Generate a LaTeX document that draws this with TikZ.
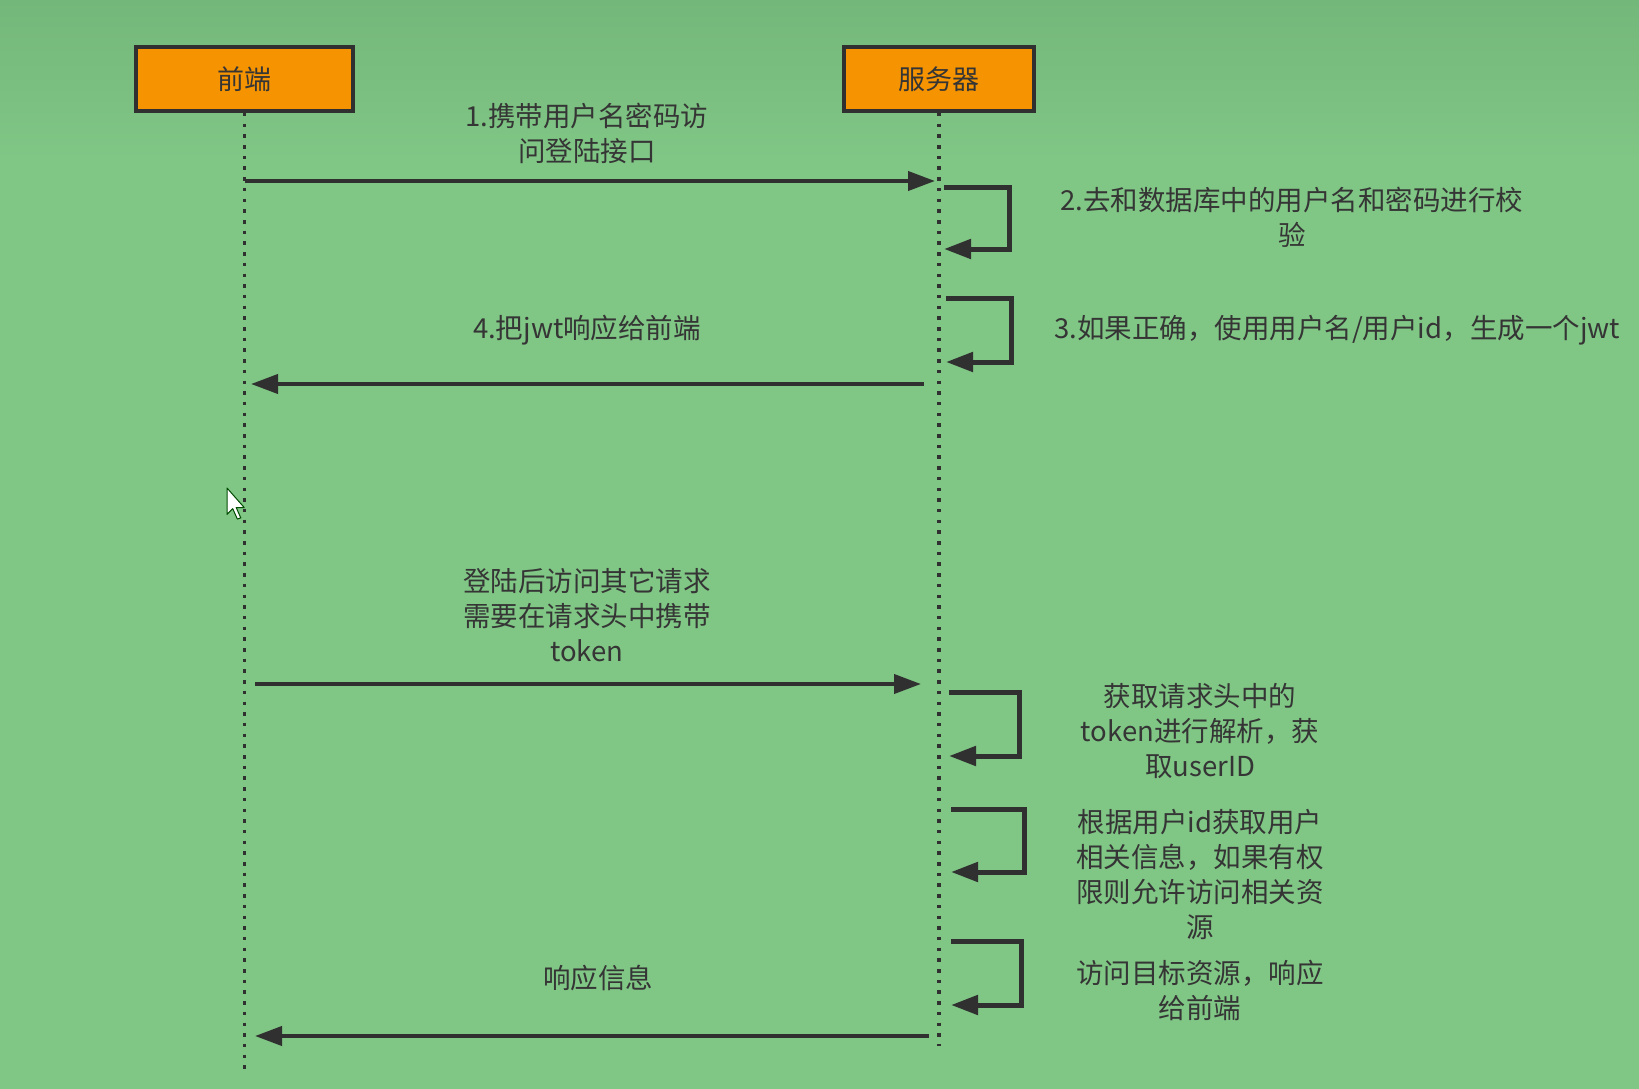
\documentclass[tikz,border=0pt]{standalone}
\usepackage{fontspec}
\setmainfont{Noto Sans CJK SC}
\usetikzlibrary{arrows.meta}
\definecolor{bgtop}{HTML}{74B77A}
\definecolor{bgbot}{HTML}{80C685}
\definecolor{boxfill}{HTML}{F59300}
\definecolor{ink}{HTML}{303030}
\definecolor{txt}{HTML}{353535}
\begin{document}
\begin{tikzpicture}[x=1pt,y=-1pt,
  actor/.style={draw=ink, line width=4pt, fill=boxfill, minimum height=64pt, inner sep=0pt, font=\fontsize{27}{30}\selectfont, text=txt},
  lbl/.style={align=center, text=txt, font=\fontsize{27.5}{35}\selectfont, inner sep=0pt},
  life/.style={draw=ink, line width=3.5pt, dash pattern=on 3.5pt off 7.2pt},
  msg/.style={draw=ink, line width=4pt, -{Triangle[length=27pt,width=19pt]}},
  selfmsg/.style={draw=ink, line width=5pt, -{Triangle[length=27pt,width=19pt]}},
]
\useasboundingbox (0,0) rectangle (1639,1089);
\fill[bgbot] (0,0) rectangle (1639,1089);
\shade[top color=bgtop, bottom color=bgbot] (0,0) rectangle (1639,160);

% actors
\node[actor, minimum width=217pt] (front) at (244.5,79) {前端};
\node[actor, minimum width=190pt] (server) at (939,79) {服务器};

% lifelines
\coordinate (fend) at (244.5,1070);
\coordinate (send) at (939,1046);
\draw[life] (front.south) -- (fend);
\draw[life] (server.south) -- (send);

% message 1
\coordinate (m1a) at (245,181);
\coordinate (m1b) at (935,181);
\draw[msg] (m1a) -- (m1b);
\node[lbl] (l1) at (587,133) {1.携带用户名密码访\\问登陆接口};

% self 2
\coordinate (s2a) at (944,187);
\coordinate (s2b) at (944,249);
\draw[selfmsg] (s2a) -| (1009,218) |- (s2b);
\node[lbl] (l2) at (1292,217) {2.去和数据库中的用户名和密码进行校\\验};

% self 3
\coordinate (s3a) at (946,298);
\coordinate (s3b) at (946,362);
\draw[selfmsg] (s3a) -| (1011,330) |- (s3b);
\node[lbl, anchor=west] (l3) at (1054,330) {3.如果正确，使用用户名/用户id，生成一个jwt};

% message 4
\coordinate (m4a) at (924,384);
\coordinate (m4b) at (251,384);
\draw[msg] (m4a) -- (m4b);
\node[lbl] (l4) at (587,330) {4.把jwt响应给前端};

% message 5
\coordinate (m5a) at (255,684);
\coordinate (m5b) at (921,684);
\draw[msg] (m5a) -- (m5b);
\node[lbl] (l5) at (587,615) {登陆后访问其它请求\\需要在请求头中携带\\token};

% self 6
\coordinate (s6a) at (949,692);
\coordinate (s6b) at (949,756);
\draw[selfmsg] (s6a) -| (1019,724) |- (s6b);
\node[lbl] (l6) at (1200,731) {获取请求头中的\\token进行解析，获\\取userID};

% self 7
\coordinate (s7a) at (951,809);
\coordinate (s7b) at (951,872);
\draw[selfmsg] (s7a) -| (1024,840) |- (s7b);
\node[lbl] (l7) at (1200,874) {根据用户id获取用户\\相关信息，如果有权\\限则允许访问相关资\\源};

% self 8
\coordinate (s8a) at (951,941);
\coordinate (s8b) at (951,1005);
\draw[selfmsg] (s8a) -| (1021,973) |- (s8b);
\node[lbl] (l8) at (1200,990) {访问目标资源，响应\\给前端};

% message 9
\coordinate (m9a) at (929,1036);
\coordinate (m9b) at (255,1036);
\draw[msg] (m9a) -- (m9b);
\node[lbl] (l9) at (598,978) {响应信息};

% mouse cursor
\begin{scope}[shift={(227,488)}, scale=1.15]
\filldraw[fill=white, draw=black!70!green, line width=1pt, line join=round]
  (0,0) -- (0,23) -- (5,18) -- (9,27) -- (12,26) -- (8,17) -- (15,17) -- cycle;
\end{scope}
\end{tikzpicture}
\end{document}
